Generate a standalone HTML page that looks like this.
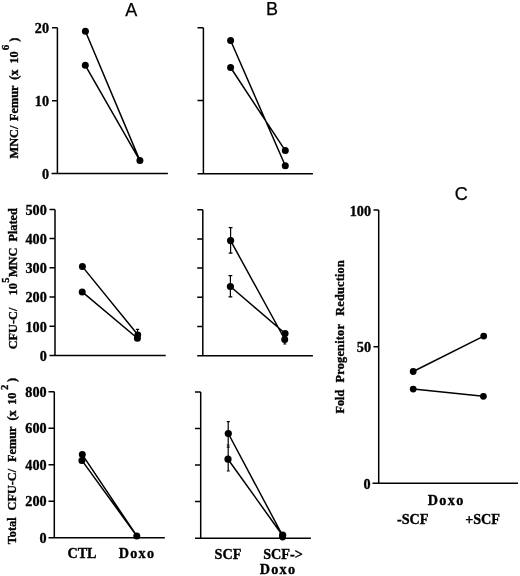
<!DOCTYPE html>
<html><head><meta charset="utf-8"><style>
html,body{margin:0;padding:0;background:#fff;width:520px;height:576px;overflow:hidden}
svg{display:block;filter:grayscale(1)}
.ax{stroke:#000;stroke-width:1.5;fill:none;stroke-linecap:butt}
.ln{stroke:#000;stroke-width:1.5;fill:none}
.dot{fill:#000}
.eb{stroke:#000;stroke-width:1.2;fill:none}
.tk{font-family:"Liberation Serif",serif;font-weight:bold;font-size:14.2px;fill:#000;text-anchor:end;stroke:#000;stroke-width:0.35}
.yl{font-family:"Liberation Serif",serif;font-weight:bold;fill:#000;stroke:#000;stroke-width:0.35}
.xl{font-family:"Liberation Serif",serif;font-weight:bold;font-size:14.2px;fill:#000;text-anchor:middle;stroke:#000;stroke-width:0.35}
.pl{font-family:"Liberation Sans",sans-serif;font-size:18px;fill:#000;text-anchor:middle;stroke:#000;stroke-width:0.25}
</style></head><body>
<svg width="520" height="576" viewBox="0 0 520 576">
<text class="pl" x="131.2" y="15.9">A</text>
<text class="pl" x="271.9" y="14.75">B</text>
<text class="pl" x="461.3" y="200">C</text>
<path class="ax" d="M57.4 27.8 V173.6 M52 27.8 H57.4 M52 100.7 H57.4 M51.5 173.6 H167.9"/>
<text class="tk" x="49" y="32.9">20</text>
<text class="tk" x="49" y="105.8">10</text>
<text class="tk" x="49" y="178.7">0</text>
<path class="ln" d="M85.4 31.2 L139.9 160.6 M85.3 65.3 L139.9 160.6"/>
<circle class="dot" cx="85.4" cy="31.2" r="3.5"/>
<circle class="dot" cx="85.3" cy="65.3" r="3.5"/>
<circle class="dot" cx="139.9" cy="160.6" r="3.5"/>
<text class="yl" font-size="12.3" transform="translate(18.1 158.4) rotate(-90)">MNC/</text>
<text class="yl" font-size="12.3" transform="translate(18.1 121.0) rotate(-90)">Femur</text>
<text class="yl" font-size="12.3" transform="translate(18.1 79.8) rotate(-90)">(x</text>
<text class="yl" font-size="12.3" transform="translate(18.1 63.6) rotate(-90)">10</text>
<text class="yl" font-size="11" transform="translate(8.8 50.3) rotate(-90)">6</text>
<text class="yl" font-size="12.3" transform="translate(18.1 41.8) rotate(-90)">)</text>
<path class="ax" d="M203.4 27.8 V173.8 M197.5 27.8 H203.4 M197.5 100.6 H203.4 M197.5 173.8 H312.9"/>
<path class="ln" d="M230.6 40.5 L285.3 165.8 M230.6 67.5 L285.3 150.6"/>
<circle class="dot" cx="230.6" cy="40.5" r="3.5"/>
<circle class="dot" cx="230.6" cy="67.5" r="3.5"/>
<circle class="dot" cx="285.3" cy="150.6" r="3.5"/>
<circle class="dot" cx="285.3" cy="165.8" r="3.5"/>
<path class="ax" d="M55 209.4 V355.6 M49.5 209.4 H55 M49.5 238.6 H55 M49.5 267.8 H55 M49.5 297 H55 M49.5 326.2 H55 M49.5 355.6 H165.7"/>
<text class="tk" x="46.8" y="214.6">500</text>
<text class="tk" x="46.8" y="243.84">400</text>
<text class="tk" x="46.8" y="273.08">300</text>
<text class="tk" x="46.8" y="302.32">200</text>
<text class="tk" x="46.8" y="331.56">100</text>
<text class="tk" x="46.8" y="360.8">0</text>
<path class="ln" d="M82.4 266.6 L137.8 334.8 M82.2 291.9 L137.4 338.3"/>
<path class="eb" d="M137.5 329.4 V334 M135.9 329.4 H139.1"/>
<circle class="dot" cx="82.4" cy="266.6" r="3.5"/>
<circle class="dot" cx="82.2" cy="291.9" r="3.5"/>
<circle class="dot" cx="137.8" cy="334.8" r="3.4"/>
<circle class="dot" cx="137.4" cy="338.3" r="3.5"/>
<text class="yl" font-size="12.3" transform="translate(17.2 349.3) rotate(-90)">CFU-C/</text>
<text class="yl" font-size="12.3" transform="translate(17.2 295.3) rotate(-90)">10</text>
<text class="yl" font-size="10.5" transform="translate(9.0 282.7) rotate(-90)">5</text>
<text class="yl" font-size="12.3" transform="translate(17.2 277.0) rotate(-90)">MNC</text>
<text class="yl" font-size="12.3" transform="translate(17.2 241.6) rotate(-90)">Plated</text>
<path class="ax" d="M202.8 209.8 V355.7 M197.2 209.8 H202.8 M197.2 239 H202.8 M197.2 268.1 H202.8 M197.2 297.2 H202.8 M197.2 326.4 H202.8 M197.2 355.7 H312.9"/>
<path class="ln" d="M230.6 240.6 L284.8 339.5 M230.4 286.5 L285.2 333.5"/>
<path class="eb" d="M230.6 227.7 V253.1 M228.7 227.7 H232.5 M228.7 253.1 H232.5"/>
<path class="eb" d="M230.4 275.6 V296.9 M228.5 275.6 H232.3 M228.5 296.9 H232.3"/>
<path class="eb" d="M284.8 339.5 V344 M283.3 344 H286.3"/>
<circle class="dot" cx="230.6" cy="240.6" r="3.6"/>
<circle class="dot" cx="230.4" cy="286.5" r="3.6"/>
<circle class="dot" cx="285.1" cy="333.6" r="3.5"/>
<circle class="dot" cx="284.7" cy="339.6" r="3.5"/>
<path class="ax" d="M54.3 391.8 V537.7 M48.5 391.8 H54.3 M48.5 428.2 H54.3 M48.5 464.7 H54.3 M48.5 501.2 H54.3 M48.5 537.7 H164.8"/>
<text class="tk" x="46.6" y="397.0">800</text>
<text class="tk" x="46.6" y="433.47">600</text>
<text class="tk" x="46.6" y="469.94">400</text>
<text class="tk" x="46.6" y="506.41">200</text>
<text class="tk" x="46.6" y="542.88">0</text>
<path class="ln" d="M82.3 454.6 L136.8 536 M81.9 460.4 L136.8 536"/>
<circle class="dot" cx="82.3" cy="454.6" r="3.5"/>
<circle class="dot" cx="81.9" cy="460.4" r="3.5"/>
<circle class="dot" cx="136.8" cy="536" r="3.5"/>
<text class="yl" font-size="12.3" transform="translate(15.5 544.2) rotate(-90)">Total</text>
<text class="yl" font-size="12.3" transform="translate(15.5 510.5) rotate(-90)">CFU-C/</text>
<text class="yl" font-size="12.3" transform="translate(15.5 462.0) rotate(-90)">Femur</text>
<text class="yl" font-size="12.3" transform="translate(15.5 420.6) rotate(-90)">(x</text>
<text class="yl" font-size="12.3" transform="translate(15.5 404.8) rotate(-90)">10</text>
<text class="yl" font-size="10.5" transform="translate(8.1 390.0) rotate(-90)">2</text>
<text class="yl" font-size="12.3" transform="translate(15.5 382.0) rotate(-90)">)</text>
<text class="xl" x="82" y="557.6">CTL</text>
<text class="xl" x="137" y="557.6" letter-spacing="1.3">Doxo</text>
<path class="ax" d="M200.7 391.9 V538.3 M195 391.9 H200.7 M195 428.5 H200.7 M195 465 H200.7 M195 501.6 H200.7 M195 538.3 H310.9"/>
<path class="ln" d="M228.3 433.5 L282.6 535.5 M228 459.2 L282.6 535.5"/>
<path class="eb" d="M228.2 421.7 V471 M226.8 421.7 H229.8 M226.8 471 H229.8 M226.8 445 H229.6 M226.8 447.2 H229.6"/>
<circle class="dot" cx="228.3" cy="433.5" r="3.6"/>
<circle class="dot" cx="228" cy="459.2" r="3.6"/>
<circle class="dot" cx="282.6" cy="535.2" r="3.6"/>
<circle class="dot" cx="282.6" cy="537" r="3.4"/>
<text class="xl" x="228" y="558.5">SCF</text>
<text class="xl" x="283" y="558.8">SCF-&gt;</text>
<text class="xl" x="278" y="574.4" letter-spacing="1.3">Doxo</text>
<path class="ax" d="M378.7 210 V483.3 M373.5 210 H378.7 M373.5 346.8 H378.7 M372.5 483.3 H518"/>
<text class="tk" x="371" y="215.6">100</text>
<text class="tk" x="371" y="352">50</text>
<text class="tk" x="370.6" y="488.6">0</text>
<path class="ln" d="M413.2 371.5 L483.7 336.1 M413.2 389.1 L483.4 396.3"/>
<circle class="dot" cx="413.2" cy="371.5" r="3.4"/>
<circle class="dot" cx="483.7" cy="336.1" r="3.4"/>
<circle class="dot" cx="413.2" cy="389.1" r="3.4"/>
<circle class="dot" cx="483.4" cy="396.3" r="3.4"/>
<text class="yl" font-size="12.3" transform="translate(343.6 413.6) rotate(-90)">Fold</text>
<text class="yl" font-size="12.3" transform="translate(343.6 382.4) rotate(-90)" letter-spacing="0.2">Progenitor</text>
<text class="yl" font-size="12.3" transform="translate(343.6 315.8) rotate(-90)" letter-spacing="0.2">Reduction</text>
<text class="xl" x="446.2" y="505" letter-spacing="1.3">Doxo</text>
<text class="xl" x="412.7" y="523.8">-SCF</text>
<text class="xl" x="482.6" y="524.2">+SCF</text>
</svg>
</body></html>
